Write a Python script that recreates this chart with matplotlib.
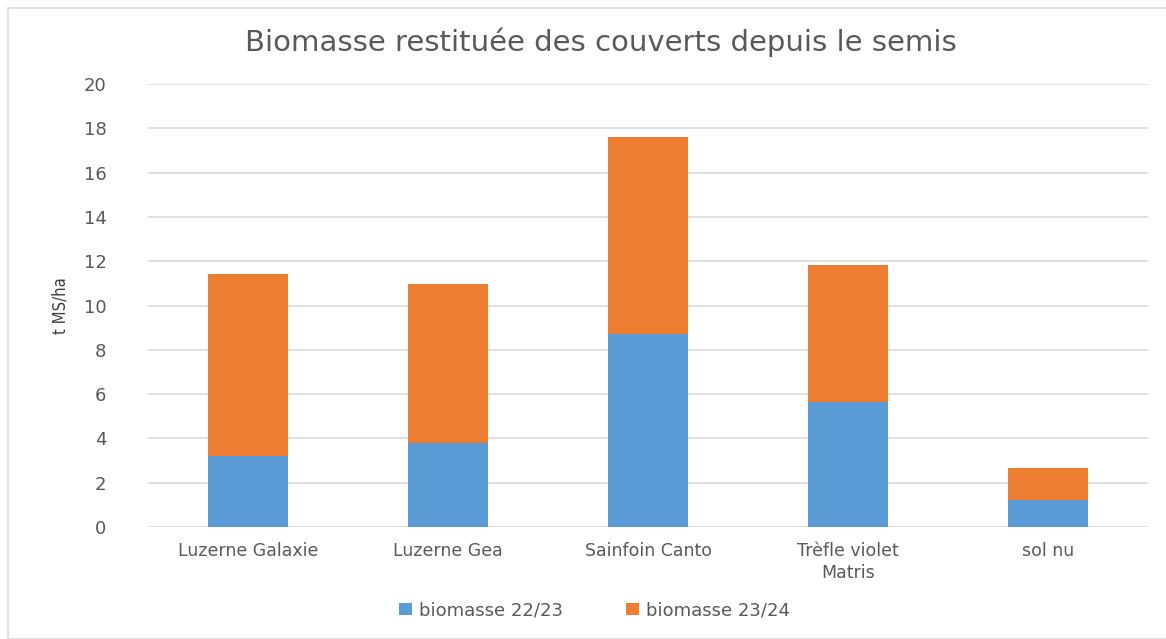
import matplotlib
matplotlib.use("Agg")
import matplotlib.pyplot as plt
from matplotlib.patches import Rectangle

categories = ["Luzerne Galaxie", "Luzerne Gea", "Sainfoin Canto", "Trèfle violet\nMatris", "sol nu"]
biomasse_22_23 = [3.2, 3.8, 8.7, 5.65, 1.2]
biomasse_23_24 = [8.2, 7.15, 8.9, 6.2, 1.45]
yticks = [0, 2, 4, 6, 8, 10, 12, 14, 16, 18, 20]

plt.rcParams['font.family'] = ['DejaVu Sans']
gray = '#595959'

fig = plt.figure(figsize=(11.66, 6.39), dpi=100)
ax = fig.add_axes([0.127, 0.1753, 0.8576, 0.6932])

x = list(range(len(categories)))
ax.bar(x, biomasse_22_23, width=0.4, color='#5B9BD5', label='biomasse 22/23', zorder=3)
ax.bar(x, biomasse_23_24, width=0.4, bottom=biomasse_22_23, color='#ED7D31', label='biomasse 23/24', zorder=3)

ax.set_xlim(-0.5, len(categories) - 0.5)
ax.set_ylim(0, 20)
ax.set_yticks(yticks)
ax.set_xticks(x)
ax.set_xticklabels(categories, fontsize=12.5, color=gray, linespacing=1.25)
ax.tick_params(axis='y', labelsize=13, colors=gray, length=0, pad=30)
ax.tick_params(axis='x', length=0, pad=11)
ax.grid(axis='y', color='#D9D9D9', linewidth=1.2, zorder=0)
for s in ax.spines.values():
    s.set_visible(False)

ax.set_ylabel('t MS/ha', fontsize=12, color='#404040', labelpad=10, fontstretch='condensed')
fig.text(0.515, 0.934, 'Biomasse restituée des couverts depuis le semis', ha='center', va='center',
         fontsize=21, color=gray)

leg = fig.legend(loc='center', bbox_to_anchor=(0.51, 0.045), ncol=2, frameon=False,
                 fontsize=13, handlelength=0.7, handleheight=0.7, columnspacing=3.5,
                 handletextpad=0.4)
for t in leg.get_texts():
    t.set_color(gray)

fig.patches.append(Rectangle((0.007, 0.0), 1.2, 0.987, transform=fig.transFigure,
                             fill=False, edgecolor='#D9D9D9', linewidth=1.2))

fig.savefig('out.png', dpi=100)
